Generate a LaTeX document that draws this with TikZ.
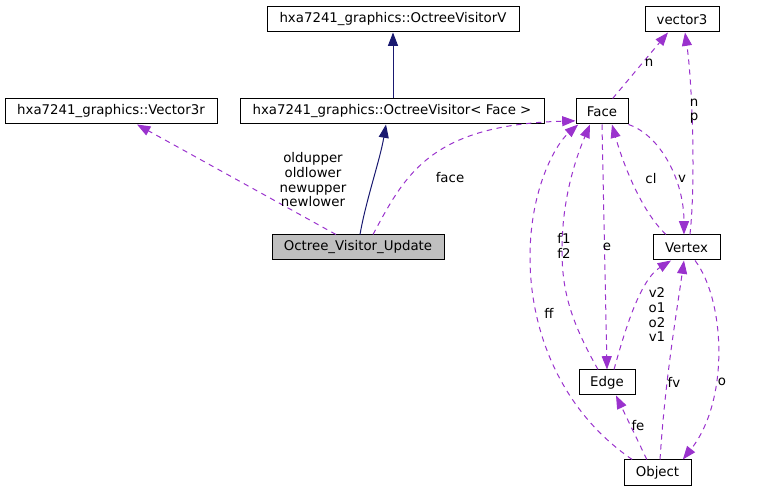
\documentclass[tikz,border=0pt]{standalone}
\usepackage{fontspec}
\setmainfont{DejaVu Sans}
\usetikzlibrary{arrows.meta}
\definecolor{cInh}{HTML}{191970}
\definecolor{cUse}{HTML}{9A32CD}
\definecolor{cCur}{HTML}{BFBFBF}
\begin{document}
\begin{tikzpicture}[x=0.75pt,y=-0.75pt,
 box/.style={draw=black,line width=0.75pt,minimum height=18.75pt,inner sep=0pt,font=\fontsize{10}{11}\selectfont},
 lbl/.style={align=center,inner sep=0pt,font=\fontsize{10}{11}\selectfont},
 inhline/.style={draw=cInh,line width=0.75pt,-{Triangle[length=10pt,width=7.5pt]}},
 useline/.style={draw=cUse,line width=0.75pt,dash pattern=on 4pt off 3.5pt,-{Triangle[length=10pt,width=7.5pt]}}
]
\useasboundingbox (0,0) rectangle (765,491);
% boxes
\node[box,minimum width=189pt] (ovV) at (393,19.5) {hxa7241\_graphics::OctreeVisitorV};
\node[box,minimum width=228pt] (ov) at (392,111.5) {hxa7241\_graphics::OctreeVisitor< Face >};
\node[box,minimum width=159pt] (v3r) at (111,111.5) {hxa7241\_graphics::Vector3r};
\node[box,minimum width=129pt,fill=cCur] (ovu) at (358,247.5) {Octree\_Visitor\_Update};
\node[box,minimum width=55.5pt] (vec3) at (682,19.5) {vector3};
\node[box,minimum width=39pt] (face) at (602,111.5) {Face};
\node[box,minimum width=50.25pt] (vertex) at (686.5,247.5) {Vertex};
\node[box,minimum width=42pt] (edge) at (607,382.5) {Edge};
\node[box,minimum width=50.25pt,minimum height=19.5pt] (object) at (657.5,473) {Object};
% inheritance
\draw[inhline] ([xshift=0.75pt]ov.north) -- (ovV.south);
\draw[inhline] ([xshift=1.5pt]ovu.north) .. controls (366,200) and (380,160) .. ([xshift=-4.5pt]ov.south);
% usage
\draw[useline] ([xshift=-16.5pt]ovu.north) -- ([xshift=19.5pt]v3r.south);
\draw[useline] ([xshift=11.25pt]ovu.north) .. controls (405,175) and (430,125) .. ([yshift=-7pt]face.west);
\draw[useline] ([xshift=8pt]face.north) -- ([xshift=-10.5pt]vec3.south);
\draw[useline] ([xshift=2.6pt]vertex.north) .. controls (696,180) and (692,80) .. ([xshift=2.25pt]vec3.south);
\draw[useline] (face.south east) .. controls (660,135) and (684,180) .. ([xshift=-1.9pt]vertex.north);
\draw[useline] ([xshift=-15.4pt]vertex.north) .. controls (640,210) and (622,160) .. ([xshift=7.5pt]face.south);
\draw[useline] ([xshift=-6.75pt]edge.north) .. controls (570,320) and (562,290) .. (562,250) .. controls (562,200) and (575,160) .. ([xshift=-9pt]face.south);
\draw[useline] (face.south) -- (edge.north);
\draw[useline] ([xshift=5.25pt]edge.north) .. controls (625,330) and (640,280) .. ([xshift=-11.6pt]vertex.south);
\draw[useline] ([xshift=-19pt]object.north) .. controls (560,410) and (530,330) .. (530,257) .. controls (530,190) and (555,145) .. ([xshift=2pt]face.south west);
\draw[useline] ([xshift=-8pt]object.north) -- ([xshift=6.75pt]edge.south);
\draw[useline] ([xshift=1.9pt]object.north) .. controls (665,380) and (677,310) .. ([xshift=-1.9pt]vertex.south);
\draw[useline] ([xshift=6.4pt]vertex.south) .. controls (725,300) and (730,400) .. ([xshift=19pt]object.north);
% labels
\node[lbl] (l1) at (313,180) {oldupper\\oldlower\\newupper\\newlower};
\node[lbl] (l2) at (450,178) {face};
\node[lbl] (l3) at (649,63) {n};
\node[lbl] (l4) at (694,111) {n\\p};
\node[lbl] (l5) at (651,179) {cl};
\node[lbl] (l6) at (682,179) {v};
\node[lbl] (l7) at (564,246) {f1\\f2};
\node[lbl] (l8) at (607,247) {e};
\node[lbl] (l9) at (657,315) {v2\\o1\\o2\\v1};
\node[lbl] (l10) at (549,313) {ff};
\node[lbl] (l11) at (674,382) {fv};
\node[lbl] (l12) at (722,382) {o};
\node[lbl] (l13) at (638,426) {fe};
\end{tikzpicture}
\end{document}
